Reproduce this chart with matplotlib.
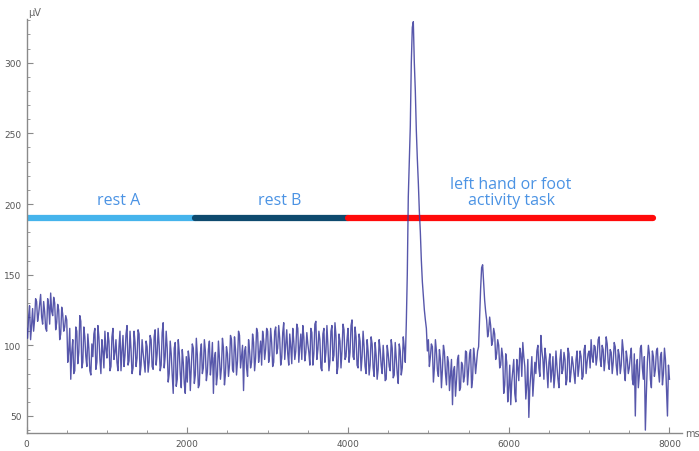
import numpy as np
import matplotlib.pyplot as plt

# signal, in microvolts
# signal: samples at 0, 25, 50 ... 8000 ms
# signal_mid: samples half way between them (12.5, 37.5 ... 7987.5 ms)
step_ms = 25
signal = [
    # 0 - 475
    112, 120, 104, 126, 118, 131, 122, 136, 115, 124, 110, 128, 137, 121, 130, 116, 125, 108, 122, 113,
    # 500 - 975
    118, 96, 76, 104, 82, 110, 95, 117, 88, 106, 85, 98, 79, 92, 112, 88, 106, 80, 96, 110,
    # 1000 - 1475
    91, 103, 85, 112, 95, 88, 99, 82, 107, 93, 114, 89, 97, 84, 102, 91, 108, 86, 95, 81,
    # 1500 - 1975
    99, 88, 104, 83, 111, 94, 100, 86, 116, 92, 98, 80, 94, 66, 102, 76, 95, 70, 88, 66,
    # 2000 - 2475
    74, 90, 84, 98, 79, 93, 72, 101, 84, 96, 81, 103, 88, 66, 95, 79, 91, 84, 98, 80,
    # 2500 - 2975
    94, 86, 104, 81, 97, 89, 107, 92, 68, 99, 78, 96, 88, 102, 91, 109, 95, 86, 104, 97,
    # 3000 - 3475
    110, 93, 102, 88, 113, 98, 105, 91, 116, 100, 94, 108, 87, 103, 96, 112, 99, 90, 106, 95,
    # 3500 - 3975
    101, 86, 109, 94, 117, 97, 104, 82, 112, 95, 100, 89, 114, 93, 107, 85, 103, 96, 111, 92,
    # 4000 - 4475
    112, 95, 118, 90, 106, 84, 103, 92, 99, 80, 96, 86, 101, 78, 93, 83, 97, 80, 89, 76,
    # 4500 - 4975
    94, 82, 98, 79, 91, 73, 96, 84, 98, 115, 205, 255, 325, 300, 252, 215, 180, 145, 125, 112,
    # 5000 - 5475
    104, 92, 99, 84, 96, 78, 90, 83, 95, 72, 88, 79, 58, 85, 75, 93, 70, 86, 78, 95,
    # 5500 - 5975
    82, 97, 76, 91, 88, 99, 140, 157, 132, 118, 110, 114, 103, 108, 94, 100, 86, 92, 72, 88,
    # 6000 - 6475
    70, 58, 82, 66, 90, 75, 94, 102, 85, 72, 49, 80, 64, 88, 96, 84, 107, 90, 98, 82,
    # 6500 - 6975
    88, 74, 92, 79, 85, 70, 97, 83, 90, 76, 94, 81, 87, 73, 96, 85, 92, 78, 100, 88,
    # 7000 - 7475
    96, 104, 88, 99, 92, 106, 85, 97, 90, 101, 83, 95, 88, 99, 79, 93, 86, 97, 75, 90,
    # 7500 - 8000
    84, 98, 72, 50, 90, 79, 100, 76, 40, 88, 94, 70, 92, 83, 98, 74, 95, 80, 90, 50, 76,
]
signal_mid = [
    105, 128, 114, 110, 133, 117, 129, 120, 131, 112, 133, 115, 124, 134, 111, 129, 104, 127, 110, 121,
    88, 112, 95, 80, 113, 87, 121, 84, 113, 92, 108, 82, 101, 108, 83, 114, 90, 104, 84, 97,
    109, 82, 106, 90, 104, 82, 110, 96, 85, 108, 86, 110, 80, 110, 85, 111, 79, 104, 88, 103,
    81, 107, 85, 106, 86, 112, 82, 109, 84, 110, 74, 103, 79, 98, 71, 104, 80, 97, 73, 92,
    96, 68, 101, 73, 105, 70, 94, 80, 104, 75, 97, 79, 102, 91, 72, 103, 76, 105, 72, 99,
    78, 107, 83, 106, 79, 110, 84, 100, 96, 84, 104, 84, 108, 82, 112, 88, 103, 110, 90, 112,
    88, 112, 85, 110, 94, 114, 86, 109, 90, 111, 86, 99, 112, 90, 115, 88, 108, 114, 89, 109,
    95, 112, 86, 115, 90, 110, 84, 108, 88, 114, 82, 110, 89, 116, 80, 108, 84, 115, 90, 104,
    88, 114, 92, 113, 86, 108, 82, 110, 85, 104, 79, 106, 84, 102, 76, 104, 86, 100, 75, 100,
    85, 104, 77, 102, 80, 101, 79, 106, 88, 150, 230, 300, 329, 280, 232, 195, 160, 135, 118, 96,
    85, 101, 74, 104, 82, 97, 70, 100, 80, 92, 68, 90, 82, 64, 90, 68, 88, 74, 96, 72,
    94, 70, 98, 80, 96, 120, 155, 145, 124, 106, 120, 100, 112, 90, 104, 84, 98, 66, 94, 60,
    86, 74, 90, 60, 84, 98, 78, 92, 62, 90, 70, 92, 76, 80, 100, 78, 96, 76, 92, 70,
    94, 82, 70, 96, 76, 90, 80, 95, 72, 98, 74, 92, 80, 90, 78, 96, 76, 97, 80, 94,
    84, 92, 100, 86, 104, 90, 100, 82, 106, 88, 97, 80, 102, 86, 97, 80, 104, 82, 96, 80,
    92, 76, 94, 86, 70, 98, 84, 92, 66, 100, 76, 96, 78, 96, 82, 92, 72, 98, 70, 86,
]

values = np.empty(len(signal) + len(signal_mid))
values[0::2] = signal
values[1::2] = signal_mid
t = np.arange(len(values)) * step_ms / 2

# task phases (start, end in ms) drawn as a bar at 190 uV
phase_names = ["rest A", "rest B", "left hand or foot\nactivity task"]
phase_start = [0, 2100, 4000]
phase_end = [2100, 4000, 7800]
phase_label_x = [1150, 3150, 6030]
phase_colors = ["#45b4ec", "#0e4a6e", "#ff0a0a"]
phase_level = 190

fig = plt.figure(figsize=(6.99, 4.52), dpi=100)
ax = fig.add_axes([0.038, 0.039, 0.937, 0.917])

ax.plot(t, values, color="#3a3a9c", lw=1.0, alpha=0.85, zorder=3)

for name, s, e, lx, c in zip(phase_names, phase_start, phase_end, phase_label_x, phase_colors):
    ax.plot([s, e], [phase_level, phase_level], color=c, lw=4.5,
            solid_capstyle="round", zorder=2)
    ax.text(lx, phase_level + 7, name, ha="center", va="bottom",
            color="#4b93e4", fontsize=11.5, family="Open Sans",
            linespacing=1.0, zorder=4)

ax.set_xlim(0, 8150)
ax.set_ylim(37.7, 331)
ax.set_xticks([0, 2000, 4000, 6000, 8000])
ax.set_xticks(np.arange(0, 8001, 500), minor=True)
ax.set_yticks([50, 100, 150, 200, 250, 300])
ax.set_yticks(np.arange(40, 331, 10), minor=True)

for side in ["top", "right"]:
    ax.spines[side].set_visible(False)
for side in ["left", "bottom"]:
    ax.spines[side].set_color("#8a8a8a")
    ax.spines[side].set_linewidth(1.0)

ax.tick_params(which="both", direction="in", colors="#8a8a8a",
               labelcolor="#555555", labelsize=6.5)
ax.tick_params(which="major", length=4)
ax.tick_params(which="minor", length=2)
ax.tick_params(axis="x", pad=4)

ax.text(0.003, 1.005, "μV", transform=ax.transAxes, fontsize=7,
        color="#666666", ha="left", va="bottom")
ax.text(1.005, 0.0, "ms", transform=ax.transAxes, fontsize=7,
        color="#666666", ha="left", va="center", clip_on=False)

fig.savefig("out.png", dpi=100)
